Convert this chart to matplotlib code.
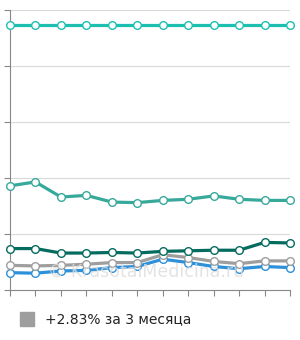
import matplotlib.pyplot as plt

# данные
months = list(range(12))
top_line = [4.74] * 12
teal_line = [1.86, 1.93, 1.66, 1.69, 1.57, 1.56, 1.60, 1.62, 1.68, 1.62, 1.60, 1.60]
dark_line = [0.74, 0.74, 0.66, 0.66, 0.67, 0.66, 0.69, 0.70, 0.71, 0.71, 0.85, 0.84]
gray_line = [0.44, 0.43, 0.44, 0.46, 0.49, 0.49, 0.63, 0.58, 0.51, 0.47, 0.52, 0.52]
blue_line = [0.31, 0.30, 0.34, 0.35, 0.40, 0.42, 0.55, 0.49, 0.42, 0.38, 0.42, 0.40]
legend_text = "+2.83% за 3 месяца"

series = [
    (blue_line, "#2e90d8"),
    (gray_line, "#9e9e9e"),
    (dark_line, "#046b5f"),
    (teal_line, "#36a99b"),
    (top_line, "#1dbfb1"),
]

fig = plt.figure(figsize=(3.0, 3.4), dpi=100)
ax = fig.add_axes([10 / 300, 50 / 340, 280 / 300, 280 / 340])

for vals, color in series:
    ax.plot(months, vals, color=color, lw=2.3, marker="o", ms=5.5,
            mfc="white", mec=color, mew=1.0, zorder=3, clip_on=False)

ax.set_xlim(0, 11)
ax.set_ylim(0, 5)
ax.set_yticks(range(6))
ax.set_xticks(months)
ax.set_yticklabels([])
ax.set_xticklabels([])
ax.grid(axis="y", color="#d9d9d9", lw=0.8)
ax.tick_params(axis="both", length=4, color="#888888", width=0.8)
for side in ["top", "right"]:
    ax.spines[side].set_visible(False)
ax.spines["left"].set_color("#888888")
ax.spines["bottom"].set_color("#888888")
ax.spines["left"].set_linewidth(0.8)
ax.spines["bottom"].set_linewidth(0.8)

# водяной знак поверх линий
ax.text(5.35, 0.32, "© KrasotaiMedicina.ru", color="#dcdcdc", fontsize=12.5,
        ha="center", va="center", zorder=4, alpha=0.8)

fig.patches.append(plt.Rectangle((20 / 300, 14 / 340), 14 / 300, 14 / 340,
                                 transform=fig.transFigure, color="#9e9e9e",
                                 figure=fig))
fig.text(45 / 300, 21 / 340, legend_text, fontsize=10, color="#222222",
         va="center", ha="left")

fig.savefig("out.png", dpi=100)
